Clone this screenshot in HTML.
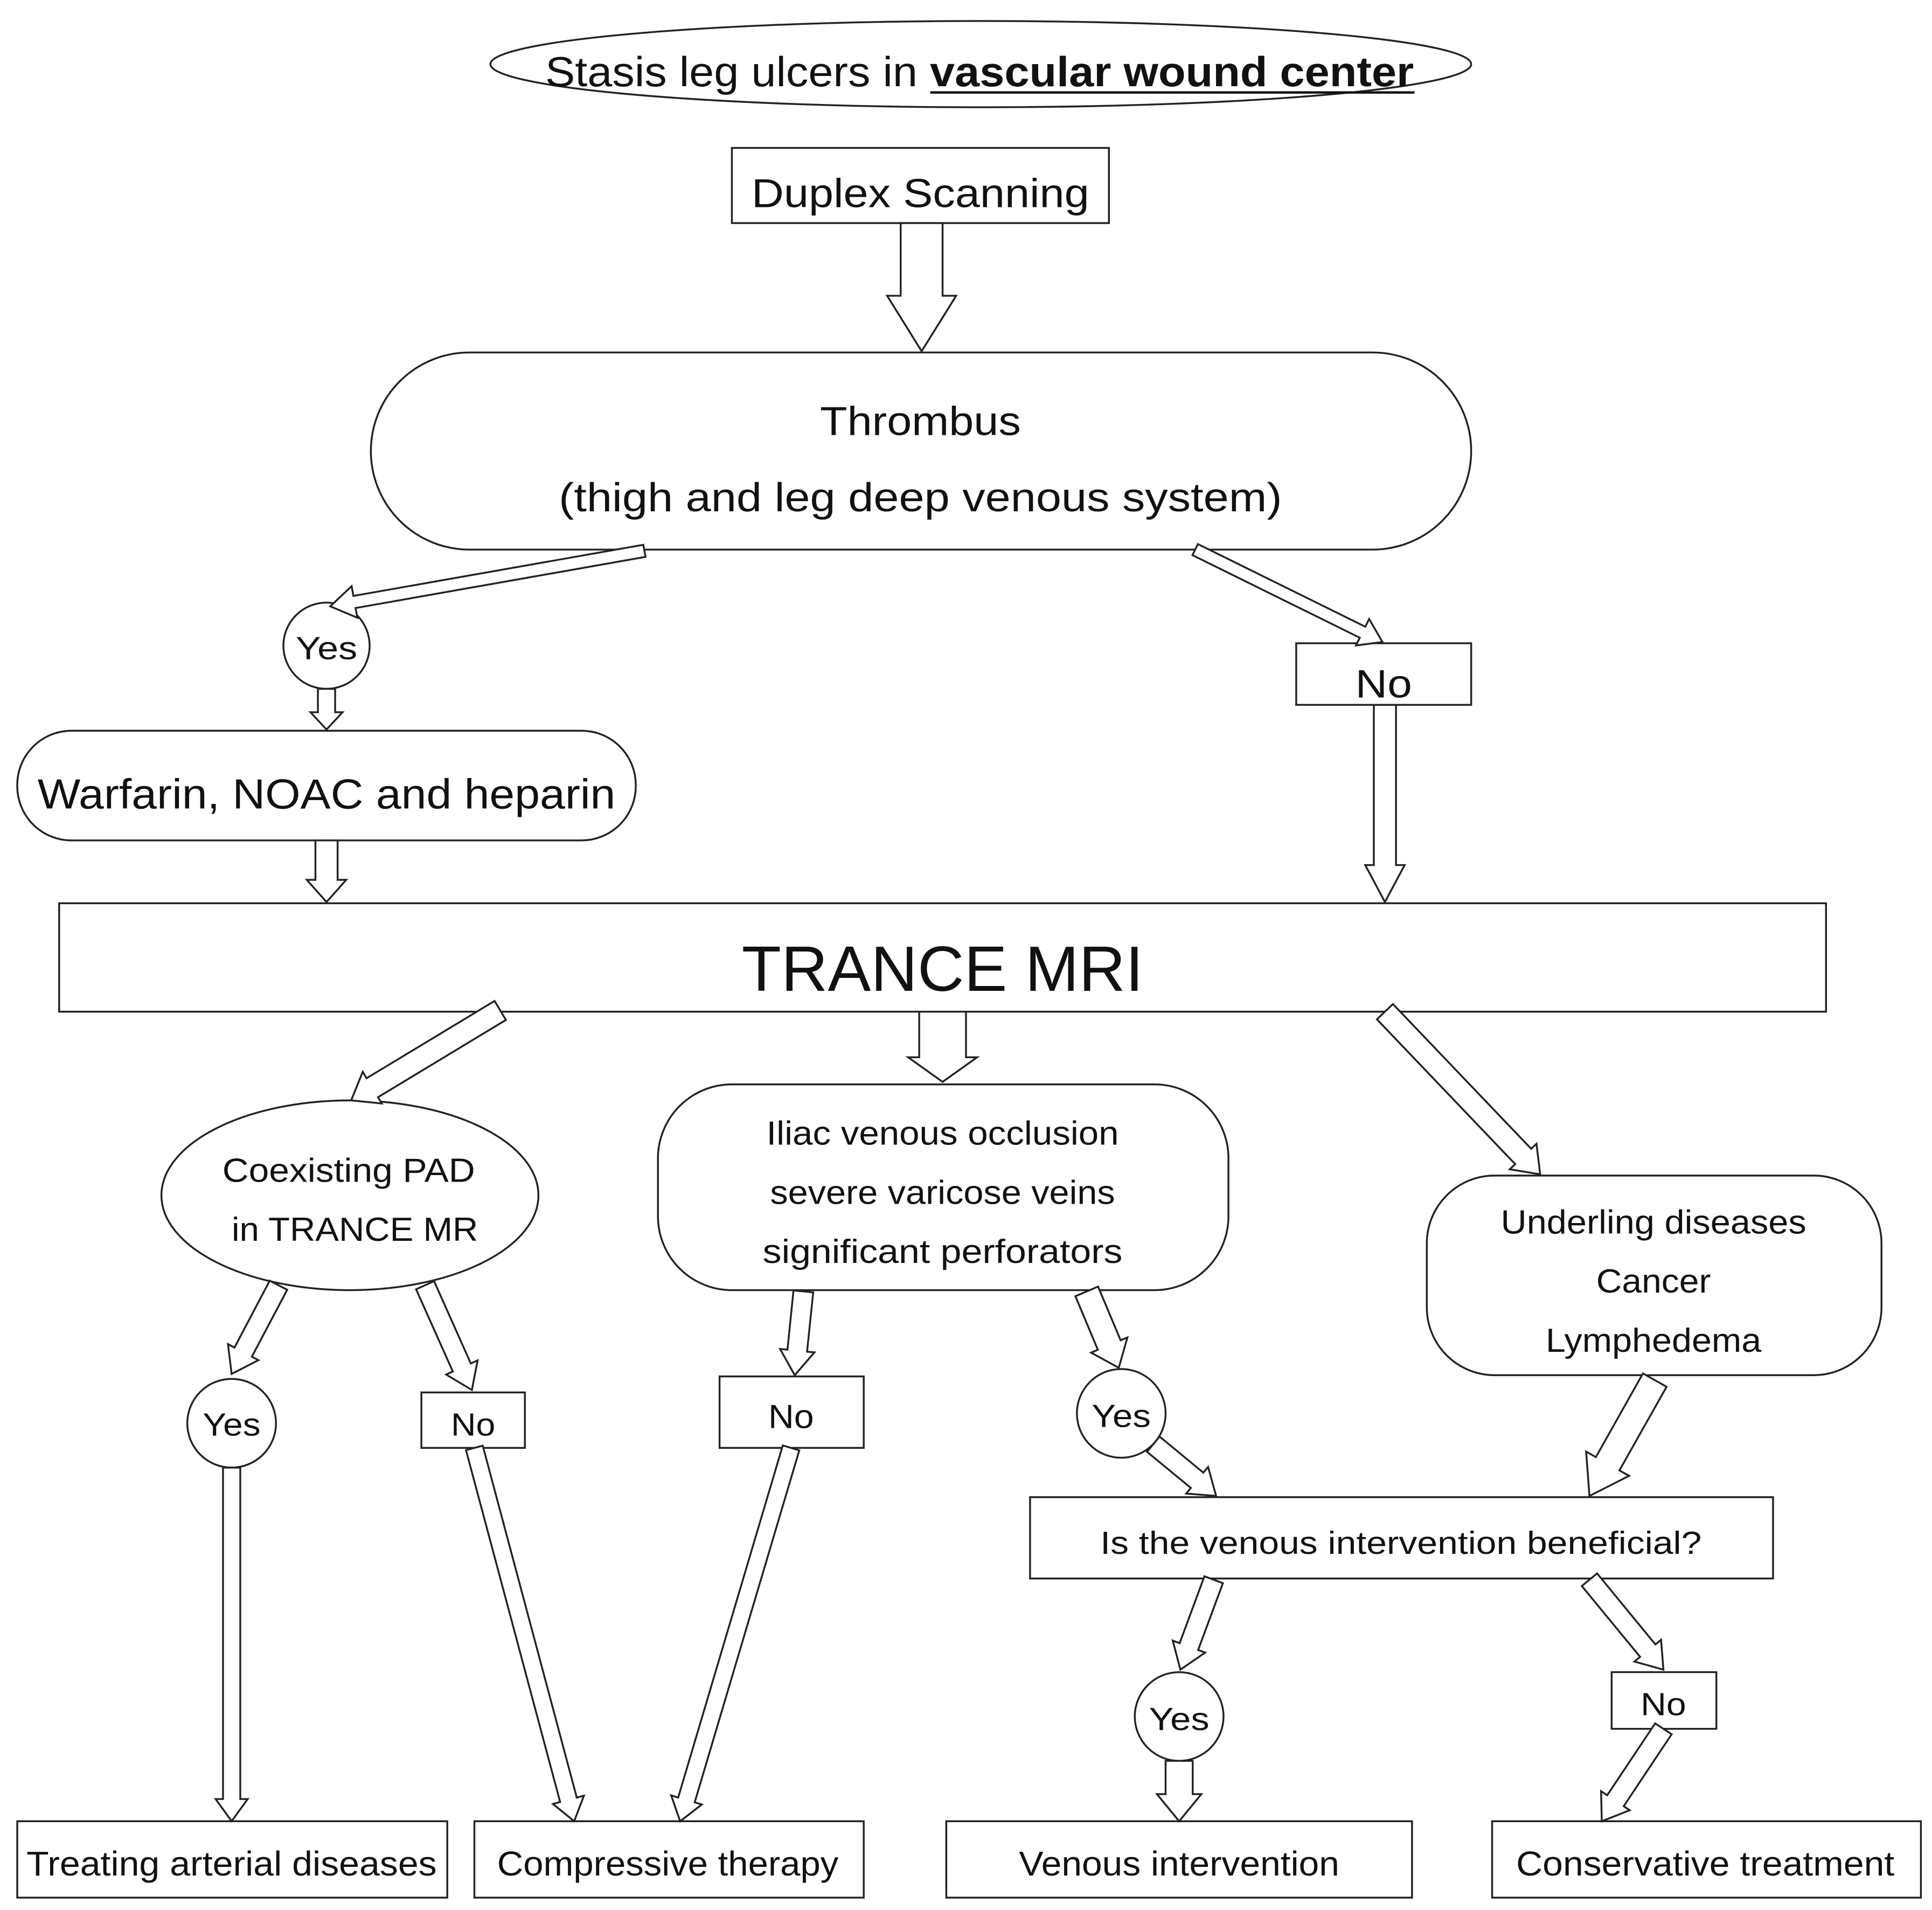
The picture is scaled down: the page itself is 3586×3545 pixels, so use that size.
<!DOCTYPE html>
<html><head><meta charset="utf-8">
<style>
html,body{margin:0;padding:0;background:#fff;}
svg{display:block;}
text{font-family:"Liberation Sans",Arial,sans-serif;fill:#111;text-anchor:middle;}
</style></head>
<body>
<svg id="s" width="3586" height="3545" viewBox="0 0 1568 1550" xmlns="http://www.w3.org/2000/svg">
<g fill="#fff" stroke="#222" stroke-width="1.5">
<ellipse cx="796" cy="52" rx="398" ry="35"/>
<rect x="594" y="120" width="306" height="61"/>
<rect x="301" y="286" width="893" height="160" rx="80"/>
<circle cx="265" cy="524" r="35"/>
<rect x="14" y="593" width="502" height="89" rx="44"/>
<rect x="1052" y="522" width="142" height="50"/>
<rect x="48" y="733" width="1434" height="88"/>
<ellipse cx="284" cy="970" rx="153" ry="77"/>
<rect x="534" y="880" width="463" height="167" rx="60"/>
<rect x="1158" y="954" width="369" height="162" rx="55"/>
<circle cx="188" cy="1155" r="36"/>
<rect x="342" y="1130" width="84" height="45"/>
<rect x="584" y="1117" width="117" height="58"/>
<circle cx="910" cy="1147" r="36"/>
<rect x="836" y="1215" width="603" height="66"/>
<circle cx="957" cy="1393" r="36"/>
<rect x="1308" y="1357" width="85" height="46"/>
<rect x="14" y="1478" width="349" height="62"/>
<rect x="385" y="1478" width="316" height="62"/>
<rect x="768" y="1478" width="378" height="62"/>
<rect x="1211" y="1478" width="348" height="62"/>
</g>
<g id="arrows" fill="#fff" stroke="#222" stroke-width="1.5"></g>
<g font-size="33">
<text x="795" y="70" font-size="34" textLength="705" lengthAdjust="spacingAndGlyphs">Stasis leg ulcers in<tspan font-weight="bold"> vascular wound center</tspan></text>
<text x="747" y="168" textLength="274" lengthAdjust="spacingAndGlyphs">Duplex Scanning</text>
<text x="747" y="353" textLength="163" lengthAdjust="spacingAndGlyphs">Thrombus</text>
<text x="747" y="415" textLength="587" lengthAdjust="spacingAndGlyphs">(thigh and leg deep venous system)</text>
<text x="265" y="535" font-size="26" textLength="50" lengthAdjust="spacingAndGlyphs">Yes</text>
<text x="265" y="656" font-size="34" textLength="469" lengthAdjust="spacingAndGlyphs">Warfarin, NOAC and heparin</text>
<text x="1123" y="566" font-size="32" textLength="46" lengthAdjust="spacingAndGlyphs">No</text>
<text x="765" y="804" font-size="52" textLength="326" lengthAdjust="spacingAndGlyphs">TRANCE MRI</text>
<text x="283" y="959" font-size="27" textLength="205" lengthAdjust="spacingAndGlyphs">Coexisting PAD</text>
<text x="288" y="1007" font-size="27" textLength="200" lengthAdjust="spacingAndGlyphs">in TRANCE MR</text>
<text x="765" y="929" font-size="27" textLength="286" lengthAdjust="spacingAndGlyphs">Iliac venous occlusion</text>
<text x="765" y="977" font-size="27" textLength="280" lengthAdjust="spacingAndGlyphs">severe varicose veins</text>
<text x="765" y="1025" font-size="27" textLength="292" lengthAdjust="spacingAndGlyphs">significant perforators</text>
<text x="1342" y="1001" font-size="27" textLength="248" lengthAdjust="spacingAndGlyphs">Underling diseases</text>
<text x="1342" y="1049" font-size="27" textLength="93" lengthAdjust="spacingAndGlyphs">Cancer</text>
<text x="1342" y="1097" font-size="27" textLength="175" lengthAdjust="spacingAndGlyphs">Lymphedema</text>
<text x="188" y="1165" font-size="26" textLength="47" lengthAdjust="spacingAndGlyphs">Yes</text>
<text x="384" y="1165" font-size="26" textLength="36" lengthAdjust="spacingAndGlyphs">No</text>
<text x="642" y="1159" font-size="27" textLength="37" lengthAdjust="spacingAndGlyphs">No</text>
<text x="910" y="1158" font-size="26" textLength="48" lengthAdjust="spacingAndGlyphs">Yes</text>
<text x="1137" y="1261" font-size="26" textLength="488" lengthAdjust="spacingAndGlyphs">Is the venous intervention beneficial?</text>
<text x="957" y="1404" font-size="26" textLength="49" lengthAdjust="spacingAndGlyphs">Yes</text>
<text x="1350" y="1392" font-size="26" textLength="37" lengthAdjust="spacingAndGlyphs">No</text>
<text x="188" y="1522" font-size="28" textLength="333" lengthAdjust="spacingAndGlyphs">Treating arterial diseases</text>
<text x="542" y="1522" font-size="28" textLength="277" lengthAdjust="spacingAndGlyphs">Compressive therapy</text>
<text x="957" y="1522" font-size="28" textLength="260" lengthAdjust="spacingAndGlyphs">Venous intervention</text>
<text x="1384" y="1522" font-size="28" textLength="307" lengthAdjust="spacingAndGlyphs">Conservative treatment</text>
</g>
<line x1="755" y1="75" x2="1148" y2="75" stroke="#111" stroke-width="2"/>
</svg>
<script>
(function(){
var g=document.getElementById('arrows');
function arrow(x1,y1,x2,y2,sw,hw,hl){
 var dx=x2-x1,dy=y2-y1,L=Math.sqrt(dx*dx+dy*dy),ux=dx/L,uy=dy/L,px=-uy,py=ux;
 var bx=x2-ux*hl,by=y2-uy*hl,s=sw/2,h=hw/2;
 var pts=[[x1+px*s,y1+py*s],[bx+px*s,by+py*s],[bx+px*h,by+py*h],[x2,y2],[bx-px*h,by-py*h],[bx-px*s,by-py*s],[x1-px*s,y1-py*s]];
 var p=document.createElementNS('http://www.w3.org/2000/svg','polygon');
 p.setAttribute('points',pts.map(function(a){return a[0].toFixed(1)+','+a[1].toFixed(1);}).join(' '));
 g.appendChild(p);
}
arrow(748,181,748,285,34,56,45);
arrow(523,447,268,492,10,26,20);
arrow(265,559,265,592,14,26,14);
arrow(265,682,265,732,18,32,18);
arrow(970,446,1122,521,10,24,18);
arrow(1124,572,1124,732,18,32,30);
arrow(406,820,285,893,18,30,20);
arrow(765,821,765,878,38,56,20);
arrow(1124,821,1250,953,18,30,20);
arrow(226,1043,188,1115,16,28,20);
arrow(345,1043,383,1128,16,28,20);
arrow(652,1048,645,1116,16,28,20);
arrow(882,1048,908,1110,20,32,20);
arrow(936,1172,987,1214,16,28,20);
arrow(1343,1120,1290,1214,22,40,30);
arrow(188,1191,188,1478,14,26,18);
arrow(385,1175,466,1478,14,26,18);
arrow(642,1175,552,1478,14,26,18);
arrow(985,1282,958,1355,16,28,20);
arrow(957,1429,957,1478,22,36,22);
arrow(1290,1282,1350,1355,16,28,20);
arrow(1350,1403,1300,1478,16,28,20);
})();
</script>
</body></html>
